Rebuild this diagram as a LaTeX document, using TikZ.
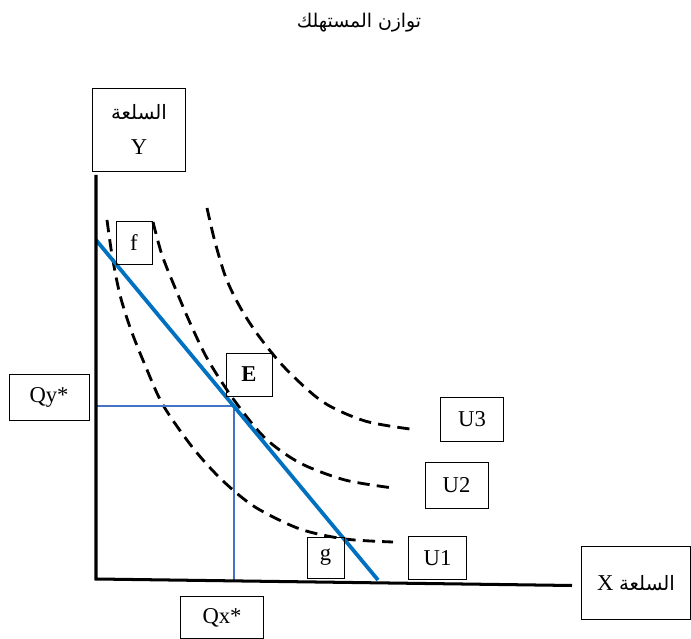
\documentclass[tikz,border=0pt]{standalone}
\usepackage{fontspec}
\setmainfont{Liberation Serif}
\newfontfamily\arabicfont[Script=Arabic]{DejaVu Sans}
\TeXXeTstate=1
\usetikzlibrary{positioning}
\definecolor{budgetblue}{RGB}{0,112,192}
\definecolor{guideblue}{RGB}{68,114,196}

\begin{document}
\begin{tikzpicture}[x=0.53pt, y=-0.53pt,
    every node/.style={align=center, font=\fontsize{12}{14}\selectfont},
    box/.style={draw, line width=0.5pt, inner sep=0pt},
    arabic/.style={font=\arabicfont\fontsize{10}{12}\selectfont},
    indiff/.style={line width=1.5pt, dash pattern=on 6.5pt off 3.8pt},
    axis/.style={line width=1.6pt},
    budget/.style={line width=2pt, budgetblue},
    guide/.style={line width=0.6pt, guideblue}]
    \useasboundingbox (0,0) rectangle (691,639);

    \node[arabic] (title) at (359,23) {\beginR توازن المستهلك\endR};

    \coordinate (origin) at (96,579);
    \coordinate (ytop)   at (96,175);
    \coordinate (xend)   at (572,585.5);
    \coordinate (bstart) at (96,240);
    \coordinate (bend)   at (378,580);
    \coordinate (eq)     at (234,406);
    \coordinate (eqx)    at (234,580);
    \coordinate (eqy)    at (96,406);

    \draw[indiff] plot[smooth, tension=0.5] coordinates
        {(107,220) (112,255) (120,295) (131,330) (145,365) (163,405) (193,448) (222,480) (255,507) (300,529) (345,539) (393,542)};
    \draw[indiff] plot[smooth, tension=0.5] coordinates
        {(153,222) (162,255) (176,290) (191,325) (208,360) (234,400) (265,438) (300,463) (345,480) (393,488)};
    \draw[indiff] plot[smooth, tension=0.5] coordinates
        {(207,208) (215,242) (226,278) (240,307) (258,335) (285,368) (323,402) (365,421) (410,429)};

    \draw[guide] (eqy) -- (eq) -- (eqx);
    \draw[budget] (bstart) -- (bend);
    \draw[axis] (ytop) -- (origin) -- (xend);

    \node[box, minimum width=48.8pt, minimum height=44pt, font=\fontsize{12}{19}\selectfont] (ybox) at (139,129.5)
        {{\arabicfont\fontsize{10.5}{12}\selectfont\beginR السلعة\endR}\\Y};
    \node[box, minimum width=57.8pt, minimum height=38.2pt] (xbox) at (636,583)
        {X {\arabicfont\fontsize{10.5}{12}\selectfont\beginR السلعة\endR}};
    \node[box, minimum width=42.4pt, minimum height=23.9pt] (qy) at (49,397.5) {Qy*};
    \node[box, minimum width=43.5pt, minimum height=22.3pt] (qx) at (222,617.5) {Qx*};
    \node[box, minimum width=24.4pt, minimum height=22.8pt, font=\fontsize{12}{14}\selectfont\bfseries] (ebox) at (249,374.5) {E};
    \node[box, minimum width=19.1pt, minimum height=22.3pt] (fbox) at (134,243) {f};
    \node[box, minimum width=19.6pt, minimum height=21.7pt] (gbox) at (325.5,557.5) {g};
    \node[box, minimum width=30.7pt, minimum height=22.3pt] (u1) at (437.5,558) {U1};
    \node[box, minimum width=33.4pt, minimum height=23.9pt] (u2) at (456.5,485.5) {U2};
    \node[box, minimum width=32.9pt, minimum height=23.3pt] (u3) at (472,419) {U3};
\end{tikzpicture}
\end{document}
